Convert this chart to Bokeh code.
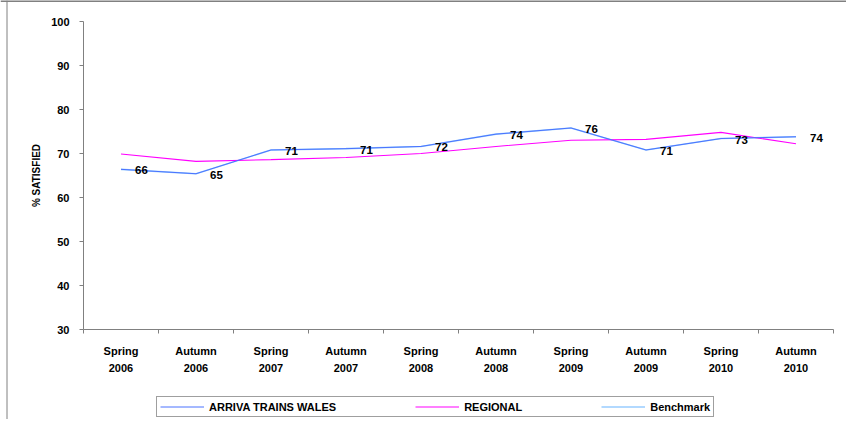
from bokeh.plotting import figure
from bokeh.models import Range1d, FixedTicker, Legend, LegendItem, ColumnDataSource, Span
from bokeh.embed import file_html
from bokeh.resources import INLINE
from bokeh.core.properties import value

categories = ["Spring\n2006", "Autumn\n2006", "Spring\n2007", "Autumn\n2007", "Spring\n2008",
              "Autumn\n2008", "Spring\n2009", "Autumn\n2009", "Spring\n2010", "Autumn\n2010"]
arriva = [66.4, 65.4, 70.8, 71.1, 71.6, 74.4, 75.8, 70.8, 73.4, 73.8]
regional = [69.9, 68.2, 68.6, 69.1, 70.0, 71.6, 73.0, 73.2, 74.8, 72.2]
benchmark = [66.4, 65.4, 70.8, 71.1, 71.6, 74.4, 75.8, 70.8, 73.4, 73.8]
arriva_labels = ["66", "65", "71", "71", "72", "74", "76", "71", "73", "74"]
y_ticks = [30, 40, 50, 60, 70, 80, 90, 100]
series_names = ["ARRIVA TRAINS WALES", "REGIONAL", "Benchmark"]
y_title = "% SATISFIED"

FONT = "Liberation Sans"
n = len(categories)
xs = [i + 0.5 for i in range(n)]
bounds = [i for i in range(n + 1)]

# ---- layout in pixels (the frame covers the whole canvas; axes are pinned inside) ----
W, H = 846, 419
AX_LEFT, AX_TOP = 83, 21          # pixel position of plot-area corner inside the canvas
CAT_W = 75.0                      # pixel width of one category
PLOT_H = 308.0                    # pixel height of the 30..100 band
ppu = PLOT_H / (y_ticks[-1] - y_ticks[0])
x_start = -AX_LEFT / CAT_W
x_end = (W - AX_LEFT) / CAT_W
y_end = y_ticks[-1] + AX_TOP / ppu
y_start = y_end - H / ppu

p = figure(width=W, height=H, output_backend="svg", toolbar_location=None,
           x_range=Range1d(x_start, x_end), y_range=Range1d(y_start, y_end),
           min_border_left=0, min_border_right=0, min_border_top=0, min_border_bottom=0)
p.outline_line_color = None
p.xgrid.visible = False
p.ygrid.visible = False

# chart-area border (top and left edges)
p.add_layout(Span(location=y_end - 0.6 / ppu, dimension="width", line_color="#808080", line_width=2))
p.add_layout(Span(location=x_start + 6.5 / CAT_W, dimension="height", line_color="#808080", line_width=1))

# x axis
xa = p.xaxis[0]
xa.fixed_location = y_ticks[0]
xa.bounds = (0, n)
xa.ticker = FixedTicker(ticks=xs, minor_ticks=bounds)
xa.major_label_overrides = {x: c for x, c in zip(xs, categories)}
xa.major_tick_line_color = None
xa.major_tick_out = 0
xa.major_tick_in = 0
xa.minor_tick_line_color = "#808080"
xa.minor_tick_out = 4
xa.minor_tick_in = 0
xa.axis_line_color = "#808080"
xa.major_label_text_font = FONT
xa.major_label_text_font_style = "bold"
xa.major_label_text_font_size = "11px"
xa.major_label_text_color = "black"
xa.major_label_text_line_height = 1.45
xa.major_label_standoff = 11

# y axis
ya = p.yaxis[0]
ya.fixed_location = 0
ya.bounds = (y_ticks[0], y_ticks[-1])
ya.ticker = FixedTicker(ticks=y_ticks, minor_ticks=[])
ya.major_tick_line_color = "#808080"
ya.major_tick_out = 4
ya.major_tick_in = 0
ya.minor_tick_line_color = None
ya.axis_line_color = "#808080"
ya.major_label_text_font = FONT
ya.major_label_text_font_style = "bold"
ya.major_label_text_font_size = "11px"
ya.major_label_text_color = "black"
ya.major_label_standoff = 10
ya.axis_label = y_title
ya.axis_label_text_font = FONT
ya.axis_label_text_font_style = "bold"
ya.axis_label_text_font_size = "10px"
ya.axis_label_text_color = "black"
ya.axis_label_standoff = 6

src = ColumnDataSource(dict(x=xs, arriva=arriva, regional=regional, benchmark=benchmark,
                            lab=arriva_labels))

r_bench = p.line("x", "benchmark", source=src, line_color="#99ccff", line_width=1.6)
r_reg = p.line("x", "regional", source=src, line_color="#ff00ff", line_width=1.1)
r_arr = p.line("x", "arriva", source=src, line_color="#4a72ff", line_width=1.0)

p.text("x", "arriva", text="lab", source=src, x_offset=14, y_offset=1,
       text_align="left", text_baseline="middle", text_font=value(FONT),
       text_font_style="bold", text_font_size="11.5px", text_color="black")

legend = Legend(items=[LegendItem(label=series_names[0], renderers=[r_arr]),
                       LegendItem(label=series_names[1], renderers=[r_reg]),
                       LegendItem(label=series_names[2], renderers=[r_bench])],
                orientation="horizontal", location=(156, 2),
                glyph_width=44, glyph_height=13, label_height=13, label_standoff=5,
                spacing=79, padding=3, margin=0,
                label_text_font=FONT, label_text_font_style="bold",
                label_text_font_size="11px", label_text_color="black",
                border_line_color="#404040", border_line_width=1,
                background_fill_color="white", background_fill_alpha=1.0)
p.add_layout(legend, "center")

open("out.html", "w").write(file_html(p, INLINE))
